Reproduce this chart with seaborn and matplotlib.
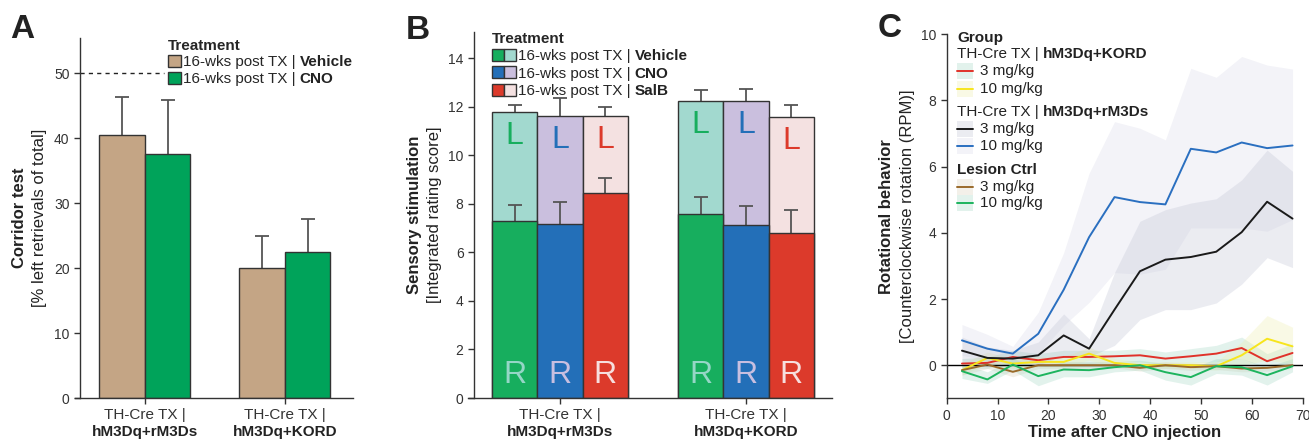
import numpy as np
import pandas as pd
import matplotlib
matplotlib.use('Agg')
import matplotlib.pyplot as plt
import matplotlib.transforms as mtransforms
import seaborn as sns
from matplotlib.patches import Patch, Rectangle
from matplotlib.container import BarContainer
from matplotlib.legend_handler import HandlerTuple

# ---------------- data ----------------
groups = ['hM3Dq+rM3Ds', 'hM3Dq+KORD']

# panel A: corridor test (mean, top of error bar)
a_treatments = ['Vehicle', 'CNO']
a_vehicle = [40.5, 20.0]
a_vehicle_err = [46.3, 24.9]
a_cno = [37.5, 22.4]
a_cno_err = [45.8, 27.6]

# panel B: sensory stimulation, right (R) part and total (R + L)
b_treatments = ['Vehicle', 'CNO', 'SalB']
b_r_vehicle = [7.3, 7.57]
b_r_vehicle_err = [7.95, 8.28]
b_tot_vehicle = [11.8, 12.24]
b_tot_vehicle_err = [12.07, 12.71]
b_r_cno = [7.18, 7.15]
b_r_cno_err = [8.09, 7.9]
b_tot_cno = [11.63, 12.24]
b_tot_cno_err = [12.38, 12.75]
b_r_salb = [8.46, 6.82]
b_r_salb_err = [9.08, 7.74]
b_tot_salb = [11.63, 11.58]
b_tot_salb_err = [12.0, 12.09]

# panel C: rotational behaviour over time
time_min = [3, 8, 13, 18, 23, 28, 33, 38, 43, 48, 53, 58, 63, 68]
kord3 = [0.05, 0.07, 0.25, 0.15, 0.25, 0.25, 0.27, 0.3, 0.2, 0.27, 0.35, 0.52, 0.12, 0.37]
kord3_hi = [0.2, 0.25, 0.45, 0.35, 0.45, 0.45, 0.45, 0.5, 0.4, 0.5, 0.6, 0.85, 0.35, 0.65]
kord3_lo = [-0.1, -0.1, 0.05, -0.05, 0.05, 0.05, 0.1, 0.1, 0.0, 0.05, 0.1, 0.2, -0.1, 0.1]
kord10 = [-0.15, 0.22, 0.05, 0.1, 0.1, 0.35, 0.07, 0.0, 0.0, 0.0, -0.03, 0.3, 0.8, 0.57]
kord10_hi = [0.05, 0.4, 0.2, 0.25, 0.25, 0.55, 0.2, 0.1, 0.1, 0.1, 0.1, 0.7, 1.5, 1.15]
kord10_lo = [-0.3, 0.05, -0.1, -0.05, -0.05, 0.15, -0.05, -0.1, -0.1, -0.1, -0.15, 0.0, 0.15, 0.05]
rm3ds3 = [0.44, 0.22, 0.2, 0.3, 0.9, 0.5, 1.68, 2.84, 3.19, 3.27, 3.43, 4.02, 4.94, 4.43]
rm3ds3_hi = [0.85, 0.55, 0.45, 0.7, 1.55, 0.8, 2.8, 4.35, 4.7, 4.9, 5.03, 5.6, 6.5, 5.86]
rm3ds3_lo = [0.05, -0.05, 0.0, 0.0, 0.3, 0.25, 0.6, 1.38, 1.68, 1.68, 1.88, 2.45, 3.25, 2.95]
rm3ds10 = [0.75, 0.5, 0.35, 0.95, 2.28, 3.87, 5.08, 4.93, 4.86, 6.54, 6.43, 6.73, 6.56, 6.64]
rm3ds10_hi = [1.23, 0.93, 0.57, 1.6, 3.4, 5.8, 7.36, 7.16, 6.81, 8.97, 8.7, 9.33, 9.07, 8.95]
rm3ds10_lo = [0.3, 0.15, 0.15, 0.35, 1.2, 1.9, 2.8, 2.75, 2.9, 4.15, 4.15, 4.15, 4.05, 4.4]
lesion3 = [-0.15, 0.02, -0.2, 0.0, 0.0, 0.0, 0.0, -0.08, 0.0, -0.06, -0.03, -0.1, -0.08, 0.0]
lesion3_hi = [0.0, 0.12, -0.05, 0.1, 0.1, 0.1, 0.08, 0.02, 0.1, 0.04, 0.07, 0.0, 0.02, 0.1]
lesion3_lo = [-0.3, -0.1, -0.35, -0.1, -0.1, -0.1, -0.08, -0.18, -0.1, -0.16, -0.13, -0.2, -0.18, -0.1]
lesion10 = [-0.18, -0.43, 0.02, -0.33, -0.13, -0.15, -0.06, 0.0, -0.21, -0.36, -0.03, -0.06, -0.3, -0.03]
lesion10_hi = [0.05, -0.2, 0.2, -0.05, 0.1, 0.1, 0.1, 0.15, 0.05, -0.1, 0.2, 0.2, -0.05, 0.2]
lesion10_lo = [-0.4, -0.55, -0.15, -0.62, -0.35, -0.35, -0.2, -0.15, -0.45, -0.6, -0.25, -0.3, -0.6, -0.2]

# ---------------- style ----------------
sns.set_theme(style='ticks')
plt.rcParams['font.family'] = ['Liberation Sans', 'DejaVu Sans']
plt.rcParams['axes.edgecolor'] = '#333333'
plt.rcParams['axes.linewidth'] = 1.0
plt.rcParams['xtick.color'] = '#333333'
plt.rcParams['ytick.color'] = '#333333'
plt.rcParams['xtick.major.width'] = 1.0
plt.rcParams['ytick.major.width'] = 1.0
plt.rcParams['xtick.major.size'] = 4
plt.rcParams['ytick.major.size'] = 4

INK = '#333333'
ERR = '#555555'
a_colors = {'Vehicle': '#c4a585', 'CNO': '#00a35a'}
b_dark = {'Vehicle': '#17ae5e', 'CNO': '#236fb8', 'SalB': '#dc3a2b'}
b_light = {'Vehicle': '#a2d9cf', 'CNO': '#cabfde', 'SalB': '#f4e1e1'}
b_letter_r = {'Vehicle': '#95d6c6', 'CNO': '#c8bfe0', 'SalB': '#f6dede'}

W, H = 1309, 441
fig = plt.figure(figsize=(W / 100, H / 100), dpi=100)


def px_axes(left, right, top, bottom):
    return fig.add_axes([left / W, 1 - bottom / H, (right - left) / W, (bottom - top) / H])


def bar_containers(ax):
    return [c for c in ax.containers if isinstance(c, BarContainer)]


def add_errorbars(ax, containers, tops, z):
    # upper half only: stem from bar top to the error value, cap at the end
    for cont, top in zip(containers, tops):
        bars = sorted(cont.patches, key=lambda p: p.get_x())
        xs = np.array([p.get_x() + p.get_width() / 2 for p in bars])
        hs = np.array([p.get_height() for p in bars])
        ax.vlines(xs, hs, top, color=ERR, lw=1.3, zorder=z)
        ax.plot(xs, top, ls='none', marker='_', markersize=10, markeredgewidth=1.3,
                color=ERR, zorder=z)


def bold_suffix(ax, texts, words, size):
    for t, w in zip(texts, words):
        ax.annotate(w, xy=(1, 0), xycoords=t, xytext=(3, 0), textcoords='offset points',
                    ha='left', va='bottom', fontweight='bold', fontsize=size, color='#222222',
                    zorder=20, annotation_clip=False)


def two_line_xticks(ax, size=11):
    ax.set_xticks([0, 1])
    ax.set_xticklabels(['TH-Cre TX |', 'TH-Cre TX |'], fontsize=size)
    trans = mtransforms.blended_transform_factory(ax.transData, ax.transAxes)
    for i, g in enumerate(groups):
        ax.text(i, -0.094, g, transform=trans, ha='center', va='center',
                fontsize=size, fontweight='bold', color='#222222')


def two_line_ylabel(ax, x1, x2, bold, normal, size=12):
    ax.text(x1, 0.5, bold, transform=ax.transAxes, rotation=90, ha='center', va='center',
            fontsize=size, fontweight='bold', color='#222222')
    ax.text(x2, 0.5, normal, transform=ax.transAxes, rotation=90, ha='center', va='center',
            fontsize=size, color='#222222')


# ---------------- panel A ----------------
ax_a = px_axes(75, 353, 38, 398)
df_a = pd.DataFrame({
    'group': groups * 2,
    'treatment': ['Vehicle'] * 2 + ['CNO'] * 2,
    'value': a_vehicle + a_cno,
})
sns.barplot(data=df_a, x='group', y='value', hue='treatment', order=groups,
            hue_order=a_treatments, palette=a_colors, saturation=1, width=0.65,
            errorbar=None, edgecolor=INK, linewidth=1.0, legend=False, ax=ax_a)
add_errorbars(ax_a, bar_containers(ax_a), [a_vehicle_err, a_cno_err], 0.9)
ax_a.set_xlim(-0.5, 1.486)
ax_a.set_ylim(0, 55.4)
ax_a.set_yticks(range(0, 51, 10))
ax_a.tick_params(axis='y', labelsize=10, labelcolor=INK)
ax_a.set_xlabel('')
ax_a.set_ylabel('')
two_line_xticks(ax_a)
sns.despine(ax=ax_a)
ax_a.spines['left'].set_position(('outward', -3.6))
ax_a.axhline(50, xmin=0.018, xmax=0.32, color='#222222', lw=1.0, ls=(0, (3, 3)))
two_line_ylabel(ax_a, -0.198, -0.126, 'Corridor test', '[% left retrievals of total]')
leg_a = ax_a.legend(handles=[Patch(facecolor=a_colors[t], edgecolor=INK) for t in a_treatments],
                    labels=['16-wks post TX |'] * 2, title='Treatment', loc='upper left',
                    bbox_to_anchor=(0.335, 0.998), frameon=False, fontsize=11,
                    title_fontproperties={'weight': 'bold', 'size': 11}, alignment='left',
                    handlelength=0.85, handleheight=0.85, handletextpad=0.1,
                    labelspacing=0.15, borderpad=0, borderaxespad=0)
bold_suffix(ax_a, leg_a.get_texts(), a_treatments, 11)

# ---------------- panel B ----------------
ax_b = px_axes(468, 832, 31.7, 398)
df_b = pd.DataFrame({
    'group': groups * 3,
    'treatment': [t for t in b_treatments for _ in groups],
    'total': b_tot_vehicle + b_tot_cno + b_tot_salb,
    'right': b_r_vehicle + b_r_cno + b_r_salb,
})
sns.barplot(data=df_b, x='group', y='total', hue='treatment', order=groups,
            hue_order=b_treatments, palette=b_light, saturation=1, width=0.73,
            errorbar=None, edgecolor=INK, linewidth=1.0, legend=False, ax=ax_b)
tot_bars = bar_containers(ax_b)
add_errorbars(ax_b, tot_bars, [b_tot_vehicle_err, b_tot_cno_err, b_tot_salb_err], 0.9)
sns.barplot(data=df_b, x='group', y='right', hue='treatment', order=groups,
            hue_order=b_treatments, palette=b_dark, saturation=1, width=0.73,
            errorbar=None, edgecolor=INK, linewidth=1.0, legend=False, ax=ax_b, zorder=1.2)
r_bars = bar_containers(ax_b)[len(tot_bars):]
add_errorbars(ax_b, r_bars, [b_r_vehicle_err, b_r_cno_err, b_r_salb_err], 1.1)
for cont, t in zip(tot_bars, b_treatments):
    for p in cont.patches:
        xc = p.get_x() + p.get_width() / 2
        ax_b.text(xc, p.get_height() - 1.0, 'L', ha='center', va='center', fontsize=23,
                  color=b_dark[t], zorder=5)
        ax_b.text(xc, 0.95, 'R', ha='center', va='center', fontsize=23,
                  color=b_letter_r[t], zorder=5)
ax_b.set_xlim(-0.495, 1.462)
ax_b.set_ylim(0, 15.1)
ax_b.set_yticks(range(0, 15, 2))
ax_b.tick_params(axis='y', labelsize=10, labelcolor=INK)
ax_b.set_xlabel('')
ax_b.set_ylabel('')
two_line_xticks(ax_b)
sns.despine(ax=ax_b)
ax_b.spines['left'].set_position(('outward', -4.3))
two_line_ylabel(ax_b, -0.148, -0.091, 'Sensory stimulation', '[Integrated rating score]')
leg_b = ax_b.legend(handles=[(Patch(facecolor=b_dark[t], edgecolor=INK), Patch(facecolor=b_light[t], edgecolor=INK))
                             for t in b_treatments],
                    labels=['16-wks post TX |'] * 3, title='Treatment', loc='upper left',
                    bbox_to_anchor=(0.066, 1.0), frameon=False, fontsize=11,
                    title_fontproperties={'weight': 'bold', 'size': 11}, alignment='left',
                    handler_map={tuple: HandlerTuple(ndivide=None, pad=0)},
                    handlelength=1.6, handleheight=0.85, handletextpad=0.1,
                    labelspacing=0.2, borderpad=0, borderaxespad=0)
bold_suffix(ax_b, leg_b.get_texts(), b_treatments, 11)

# ---------------- panel C ----------------
ax_c = px_axes(946.7, 1302.7, 34.3, 398.3)
series = [
    ('kord3', kord3, kord3_lo, kord3_hi, '#e0322a', '#9fd6c2', 0.3),
    ('kord10', kord10, kord10_lo, kord10_hi, '#f7e51c', '#eeeeaa', 0.3),
    ('rm3ds3', rm3ds3, rm3ds3_lo, rm3ds3_hi, '#1a1a1a', '#9ea3bd', 0.2),
    ('rm3ds10', rm3ds10, rm3ds10_lo, rm3ds10_hi, '#2a6fc0', '#c4c4dc', 0.2),
    ('lesion3', lesion3, lesion3_lo, lesion3_hi, '#9a6a2a', '#d8cfb8', 0.3),
    ('lesion10', lesion10, lesion10_lo, lesion10_hi, '#1db45e', '#9fd6c2', 0.3),
]
for name, mean, lo, hi, lc, bc, al in series:
    ax_c.fill_between(time_min, lo, hi, color=bc, alpha=al, lw=0, zorder=1)
ax_c.axhline(0, color='black', lw=1.0, zorder=2)
df_c = pd.DataFrame({
    'time': time_min * len(series),
    'rpm': sum([s[1] for s in series], []),
    'series': [s[0] for s in series for _ in time_min],
})
sns.lineplot(data=df_c, x='time', y='rpm', hue='series', hue_order=[s[0] for s in series],
             palette={s[0]: s[4] for s in series}, linewidth=1.4, errorbar=None,
             legend=False, ax=ax_c, zorder=3)
ax_c.set_xlim(0, 70)
ax_c.set_ylim(-1, 10)
ax_c.set_xticks(range(0, 71, 10))
ax_c.set_yticks(range(0, 11, 2))
ax_c.tick_params(axis='both', labelsize=10, labelcolor=INK)
ax_c.set_xlabel('')
ax_c.set_ylabel('')
sns.despine(ax=ax_c)
two_line_ylabel(ax_c, -0.168, -0.111, 'Rotational behavior', '[Counterclockwise rotation (RPM)]')
ax_c.text(0.5, -0.095, 'Time after CNO injection', transform=ax_c.transAxes, ha='center',
          va='center', fontsize=12, fontweight='bold', color='#222222')

# legend for panel C, laid out row by row
legend_rows = [
    ('title', 'Group', None, 0.99),
    ('header', 'TH-Cre TX |', 'hM3Dq+KORD', 0.946),
    ('item', '3 mg/kg', 0, 0.899),
    ('item', '10 mg/kg', 1, 0.850),
    ('header', 'TH-Cre TX |', 'hM3Dq+rM3Ds', 0.787),
    ('item', '3 mg/kg', 2, 0.740),
    ('item', '10 mg/kg', 3, 0.693),
    ('title', 'Lesion Ctrl', None, 0.627),
    ('item', '3 mg/kg', 4, 0.581),
    ('item', '10 mg/kg', 5, 0.537),
]
hx0, hx1, tx = 0.029, 0.074, 0.094
for kind, label, extra, yy in legend_rows:
    if kind == 'title':
        ax_c.text(hx0, yy, label, transform=ax_c.transAxes, ha='left', va='center',
                  fontsize=11, fontweight='bold', color='#222222')
    elif kind == 'header':
        t = ax_c.text(hx0, yy, label, transform=ax_c.transAxes, ha='left', va='center',
                      fontsize=11, color='#222222')
        bold_suffix(ax_c, [t], [extra], 11)
    else:
        s = series[extra]
        ax_c.add_patch(Rectangle((hx0, yy - 0.022), hx1 - hx0, 0.044, transform=ax_c.transAxes,
                                 facecolor=s[5], alpha=s[6], lw=0, clip_on=False))
        ax_c.plot([hx0, hx1], [yy, yy], transform=ax_c.transAxes, color=s[4], lw=1.4,
                  clip_on=False)
        ax_c.text(tx, yy, label, transform=ax_c.transAxes, ha='left', va='center',
                  fontsize=11, color='#222222')

# panel letters
fig.text(10 / W, 1 - 38 / H, 'A', fontsize=24, fontweight='bold', color='#222222')
fig.text(406 / W, 1 - 39 / H, 'B', fontsize=24, fontweight='bold', color='#222222')
fig.text(878 / W, 1 - 37 / H, 'C', fontsize=24, fontweight='bold', color='#222222')

fig.canvas.draw()
fig.savefig('out.png', dpi=100)
